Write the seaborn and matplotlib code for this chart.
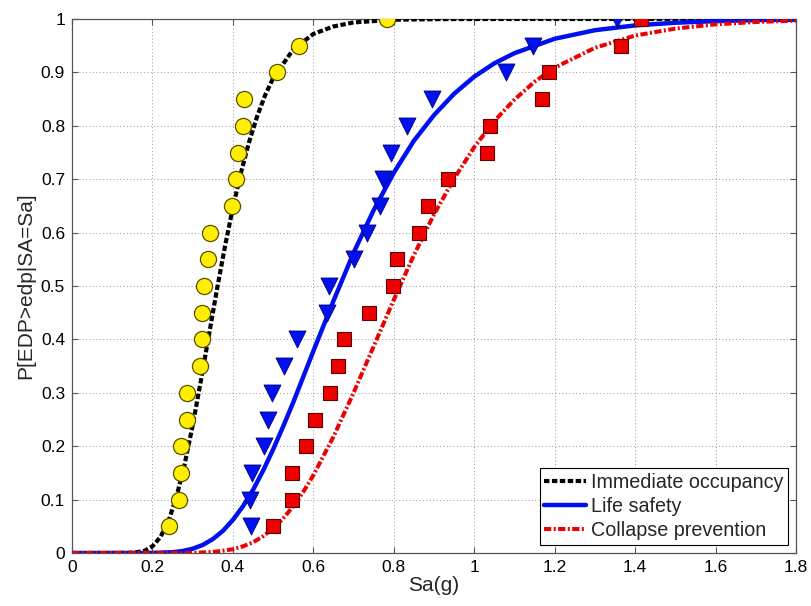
import matplotlib
matplotlib.use("Agg")
import matplotlib.pyplot as plt
from matplotlib.lines import Line2D
import seaborn as sns
import pandas as pd

# ---- observed data points (Sa at each exceedance level) ----
p_levels = [0.05, 0.10, 0.15, 0.20, 0.25, 0.30, 0.35, 0.40, 0.45, 0.50,
            0.55, 0.60, 0.65, 0.70, 0.75, 0.80, 0.85, 0.90, 0.95, 1.00]
io_sa = [0.241, 0.266, 0.270, 0.271, 0.285, 0.285, 0.318, 0.322, 0.322, 0.329,
         0.339, 0.343, 0.397, 0.407, 0.412, 0.424, 0.428, 0.510, 0.565, 0.782]
ls_sa = [0.445, 0.443, 0.447, 0.477, 0.488, 0.498, 0.528, 0.559, 0.633, 0.639,
         0.701, 0.733, 0.766, 0.772, 0.792, 0.834, 0.896, 1.079, 1.145, 1.356]
cp_sa = [0.500, 0.546, 0.547, 0.582, 0.604, 0.641, 0.662, 0.675, 0.738, 0.797,
         0.808, 0.863, 0.885, 0.934, 1.033, 1.038, 1.169, 1.187, 1.365, 1.414]

# ---- fitted fragility curves ----
io_x = [0, 0.10, 0.15, 0.18, 0.20, 0.22, 0.24, 0.26, 0.28, 0.30, 0.32, 0.34, 0.36,
        0.38, 0.40, 0.42, 0.44, 0.46, 0.48, 0.50, 0.55, 0.60, 0.65, 0.70, 0.80,
        0.90, 1.00, 1.80]
io_y = [0, 0, 0.0004, 0.004, 0.0125, 0.030, 0.060, 0.106, 0.166, 0.239, 0.321, 0.406,
        0.492, 0.573, 0.647, 0.712, 0.769, 0.817, 0.857, 0.889, 0.943, 0.972, 0.986,
        0.9936, 0.9986, 0.9997, 1.0, 1.0]

ls_x = [0, 0.20, 0.25, 0.275, 0.30, 0.325, 0.35, 0.375, 0.40, 0.425, 0.45, 0.475,
        0.50, 0.525, 0.55, 0.60, 0.65, 0.70, 0.75, 0.80, 0.85, 0.90, 0.95, 1.00,
        1.05, 1.10, 1.20, 1.30, 1.40, 1.50, 1.60, 1.70, 1.80]
ls_y = [0, 0.0001, 0.0015, 0.0037, 0.008, 0.015, 0.026, 0.0413, 0.062, 0.0874, 0.118,
        0.154, 0.194, 0.237, 0.282, 0.378, 0.472, 0.562, 0.642, 0.712, 0.772, 0.820,
        0.860, 0.892, 0.917, 0.936, 0.963, 0.979, 0.988, 0.993, 0.996, 0.998, 0.9987]

cp_x = [0, 0.30, 0.35, 0.40, 0.425, 0.45, 0.475, 0.50, 0.525, 0.55, 0.575, 0.60,
        0.65, 0.70, 0.75, 0.80, 0.85, 0.90, 0.95, 1.00, 1.05, 1.10, 1.15, 1.20,
        1.30, 1.40, 1.50, 1.60, 1.70, 1.80]
cp_y = [0, 0.0002, 0.0018, 0.007, 0.0124, 0.020, 0.0313, 0.046, 0.0647, 0.0875,
        0.1145, 0.1455, 0.2177, 0.300, 0.387, 0.474, 0.558, 0.634, 0.701, 0.760,
        0.809, 0.849, 0.8825, 0.909, 0.946, 0.969, 0.982, 0.990, 0.9944, 0.9969]

series_names = ["Immediate occupancy", "Life safety", "Collapse prevention"]
x_ticks = [0, 0.2, 0.4, 0.6, 0.8, 1.0, 1.2, 1.4, 1.6, 1.8]
x_tick_labels = ["0", "0.2", "0.4", "0.6", "0.8", "1", "1.2", "1.4", "1.6", "1.8"]
y_ticks = [0, 0.1, 0.2, 0.3, 0.4, 0.5, 0.6, 0.7, 0.8, 0.9, 1.0]
y_tick_labels = ["0", "0.1", "0.2", "0.3", "0.4", "0.5", "0.6", "0.7", "0.8", "0.9", "1"]

sns.set_style("ticks")
plt.rcParams["font.family"] = ["Liberation Sans", "DejaVu Sans"]

fig = plt.figure(figsize=(8.11, 6.06), dpi=100)
ax = fig.add_axes([72 / 811, 53 / 606, 724 / 811, 534 / 606])

io_curve = pd.DataFrame({"Sa": io_x, "P": io_y})
ls_curve = pd.DataFrame({"Sa": ls_x, "P": ls_y})
cp_curve = pd.DataFrame({"Sa": cp_x, "P": cp_y})

io_style = (0, (1.3, 0.6))
cp_style = (0, (1.8, 0.6, 0.5, 0.6))

sns.lineplot(data=io_curve, x="Sa", y="P", ax=ax, color="black", lw=3.0,
             linestyle=io_style, estimator=None, sort=False, zorder=3)
sns.lineplot(data=ls_curve, x="Sa", y="P", ax=ax, color="#0010ee", lw=3.2,
             estimator=None, sort=False, zorder=3)
sns.lineplot(data=cp_curve, x="Sa", y="P", ax=ax, color="#ee0000", lw=2.9,
             linestyle=cp_style, estimator=None, sort=False, zorder=3)

io_pts = pd.DataFrame({"Sa": io_sa, "P": p_levels})
ls_pts = pd.DataFrame({"Sa": ls_sa, "P": p_levels})
cp_pts = pd.DataFrame({"Sa": cp_sa, "P": p_levels})

sns.scatterplot(data=io_pts, x="Sa", y="P", ax=ax, marker="o", s=135,
                color="#ffee00", edgecolor="#5a5000", linewidth=0.9, zorder=4, legend=False)
sns.scatterplot(data=ls_pts, x="Sa", y="P", ax=ax, marker="v", s=150,
                color="#0010ee", edgecolor="#000080", linewidth=0.6, zorder=4, legend=False)
sns.scatterplot(data=cp_pts, x="Sa", y="P", ax=ax, marker="s", s=95,
                color="#ee0000", edgecolor="#600000", linewidth=0.8, zorder=4, legend=False)

ax.set_xlim(0, 1.8)
ax.set_ylim(0, 1)
ax.set_xticks(x_ticks)
ax.set_xticklabels(x_tick_labels)
ax.set_yticks(y_ticks)
ax.set_yticklabels(y_tick_labels)
ax.tick_params(direction="in", length=4, width=0.8, colors="#555555",
               labelcolor="black", labelsize=12.5, top=True, right=True, pad=5)
ax.grid(True, linestyle=(0, (1, 2.5)), color="#9a9a9a", linewidth=0.7)
for sp in ax.spines.values():
    sp.set_visible(True)
    sp.set_color("#555555")
    sp.set_linewidth(0.9)

ax.set_xlabel("Sa(g)", fontsize=15, labelpad=1)
ax.set_ylabel("P[EDP>edp|SA=Sa]", fontsize=15, labelpad=4)

handles = [
    Line2D([], [], color="black", lw=3.0, linestyle=io_style),
    Line2D([], [], color="#0010ee", lw=3.2),
    Line2D([], [], color="#ee0000", lw=2.9, linestyle=cp_style),
]
leg = ax.legend(handles, series_names, loc="lower right", fontsize=14.2,
                frameon=True, fancybox=False, framealpha=1, edgecolor="black",
                handlelength=2.1, handletextpad=0.25, labelspacing=0.25,
                borderpad=0.25, borderaxespad=0.4)
leg.get_frame().set_linewidth(0.8)

fig.savefig("out.png", dpi=100)
